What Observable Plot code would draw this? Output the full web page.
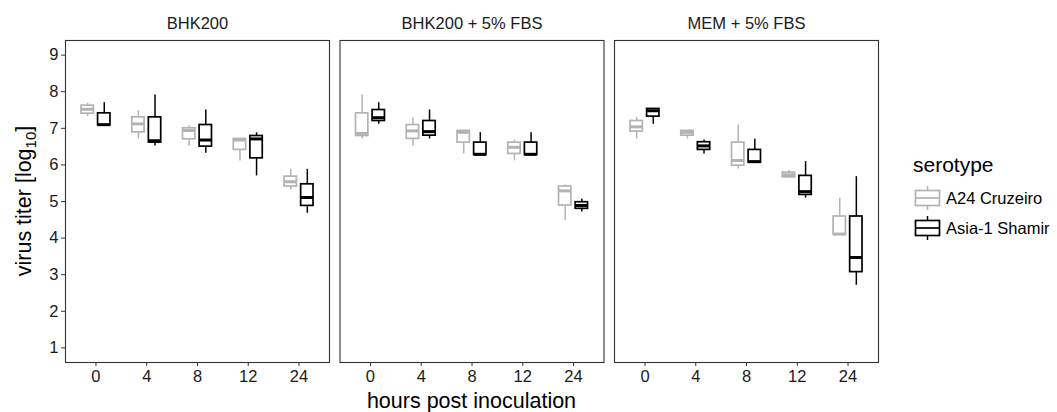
<!DOCTYPE html>
<html><head><meta charset="utf-8">
<script src="https://cdn.jsdelivr.net/npm/d3@7"></script>
<script src="https://cdn.jsdelivr.net/npm/@observablehq/plot@0.6"></script>
<style>
body{margin:0;background:#fff;}
#chart{position:relative;width:1057px;height:412px;overflow:hidden;font-family:"Liberation Sans",Arial,sans-serif;}
</style></head><body><div id="chart"></div>
<script>
const media = ["BHK200", "BHK200 + 5% FBS", "MEM + 5% FBS"];
const times = ["0", "4", "8", "12", "24"];
const serotypes = ["A24 Cruzeiro", "Asia-1 Shamir"];
const yTicks = [1, 2, 3, 4, 5, 6, 7, 8, 9];

// order: BHK200 (0,4,8,12,24), BHK200 + 5% FBS (0..24), MEM + 5% FBS (0..24)
const a24Min = [7.32, 6.71, 6.52, 6.11, 5.32,  6.71, 6.52, 6.30, 6.11, 4.48,  6.71, 6.71, 5.89, 5.64, 4.09];
const a24Q1  = [7.40, 6.89, 6.70, 6.41, 5.41,  6.79, 6.71, 6.61, 6.30, 4.89,  6.91, 6.80, 5.98, 5.66, 4.09];
const a24Med = [7.52, 7.12, 6.94, 6.68, 5.54,  6.86, 6.93, 6.89, 6.48, 5.29,  7.04, 6.89, 6.12, 5.73, 4.11];
const a24Q3  = [7.62, 7.30, 7.00, 6.71, 5.68,  7.41, 7.09, 6.93, 6.61, 5.41,  7.20, 6.93, 6.61, 5.79, 4.59];
const a24Max = [7.68, 7.48, 7.06, 6.71, 5.88,  7.91, 7.29, 6.93, 6.68, 5.45,  7.29, 6.93, 7.09, 5.85, 5.09];

const asiaMin = [7.08, 6.52, 6.32, 5.70, 4.68,  7.11, 6.71, 6.27, 6.27, 4.71,  7.11, 6.30, 6.06, 5.09, 2.71];
const asiaQ1  = [7.08, 6.61, 6.50, 6.18, 4.88,  7.20, 6.80, 6.27, 6.27, 4.80,  7.32, 6.41, 6.06, 5.18, 3.07];
const asiaMed = [7.10, 6.66, 6.68, 6.71, 5.11,  7.29, 6.91, 6.29, 6.29, 4.89,  7.48, 6.52, 6.09, 5.27, 3.47];
const asiaQ3  = [7.41, 7.30, 7.09, 6.79, 5.47,  7.50, 7.20, 6.61, 6.61, 4.98,  7.53, 6.62, 6.41, 5.70, 4.59];
const asiaMax = [7.70, 7.91, 7.50, 6.88, 5.88,  7.70, 7.50, 6.88, 6.88, 5.06,  7.53, 6.68, 6.70, 6.09, 5.68];

const colors = ["#b3b3b3", "#000000"];

function rows(serotype, mn, q1, md, q3, mx) {
  const out = [];
  media.forEach((m, i) => times.forEach((t, j) => {
    const k = i * times.length + j;
    out.push({medium: m, time: t, serotype, min: mn[k], q1: q1[k], median: md[k], q3: q3[k], max: mx[k]});
  }));
  return out;
}
const a24 = rows(serotypes[0], a24Min, a24Q1, a24Med, a24Q3, a24Max);
const asia = rows(serotypes[1], asiaMin, asiaQ1, asiaMed, asiaQ3, asiaMax);

function boxMarks(data, color, side) {
  const off = 8.3;
  const inL = side < 0 ? 10.9 : 27.5;
  const inR = side < 0 ? 27.5 : 10.9;
  return [
    Plot.ruleX(data, {x: "time", y1: "min", y2: "max", fx: "medium", dx: side * off, stroke: color, strokeWidth: 1.5}),
    Plot.barY(data, {x: "time", y1: "q1", y2: "q3", fx: "medium", insetLeft: inL, insetRight: inR, fill: "white", stroke: color, strokeWidth: 1.7}),
    Plot.tickY(data, {x: "time", y: "median", fx: "medium", insetLeft: inL, insetRight: inR, stroke: color, strokeWidth: 3})
  ];
}

const fs = 16.5;
const plot = Plot.plot({
  width: 1057, height: 412,
  marginLeft: 65, marginRight: 179, marginTop: 40, marginBottom: 50,
  style: {fontFamily: "'Liberation Sans', Arial, sans-serif", fontSize: fs + "px", background: "white", color: "#1a1a1a"},
  fx: {domain: media, paddingInner: 0.0383, paddingOuter: 0, round: false, label: null},
  x: {type: "band", domain: times, paddingInner: 0, paddingOuter: 0.1, round: false, label: null},
  y: {domain: [0.6, 9.4], label: null},
  marks: [
    ...boxMarks(a24, colors[0], -1),
    ...boxMarks(asia, colors[1], 1),
    Plot.frame({stroke: "#333", strokeWidth: 1.1}),
    Plot.axisFx({anchor: "top", tickSize: 0, tickPadding: 12, label: null, fontSize: fs, color: "#1a1a1a"}),
    Plot.axisY({ticks: yTicks, tickSize: 4, tickPadding: 3, label: null, fontSize: fs, color: "#1a1a1a", stroke: "#333"}),
    Plot.axisX({tickSize: 4, tickPadding: 4, label: null, fontSize: fs, color: "#1a1a1a", stroke: "#333"})
  ]
});
document.getElementById("chart").appendChild(plot);

// titles and legend
const svg = d3.select(plot);
const ff = "'Liberation Sans', Arial, sans-serif";
svg.append("text").attr("x", 471.5).attr("y", 408).attr("text-anchor", "middle")
  .attr("font-family", ff).attr("font-size", 21.5).attr("fill", "#000").text("hours post inoculation");
const yt = svg.append("text").attr("transform", "translate(31,201) rotate(-90)").attr("text-anchor", "middle")
  .attr("font-family", ff).attr("font-size", 21.5).attr("fill", "#000");
yt.append("tspan").text("virus titer [log");
yt.append("tspan").attr("font-size", 15).attr("dy", 5).text("10");
yt.append("tspan").attr("dy", -5).text("]");

const lg = svg.append("g").attr("font-family", ff).attr("text-anchor", "start");
lg.append("text").attr("x", 913).attr("y", 172).attr("font-size", 21).attr("fill", "#000").attr("text-anchor", "start").text("serotype");
serotypes.forEach((s, i) => {
  const cy = 198 + i * 30, cx = 927.5, c = colors[i];
  const g = lg.append("g").attr("stroke", c).attr("fill", "none");
  g.append("line").attr("x1", cx).attr("x2", cx).attr("y1", cy - 12).attr("y2", cy + 12).attr("stroke-width", 1.5);
  g.append("rect").attr("x", cx - 12).attr("y", cy - 7.5).attr("width", 24).attr("height", 15).attr("fill", "white").attr("stroke-width", 1.7);
  g.append("line").attr("x1", cx - 12).attr("x2", cx + 12).attr("y1", cy).attr("y2", cy).attr("stroke-width", 1.7);
  lg.append("text").attr("x", 946).attr("y", cy).attr("dy", "0.35em").attr("font-size", fs).attr("fill", "#000").attr("text-anchor", "start").text(s);
});
</script></body></html>
